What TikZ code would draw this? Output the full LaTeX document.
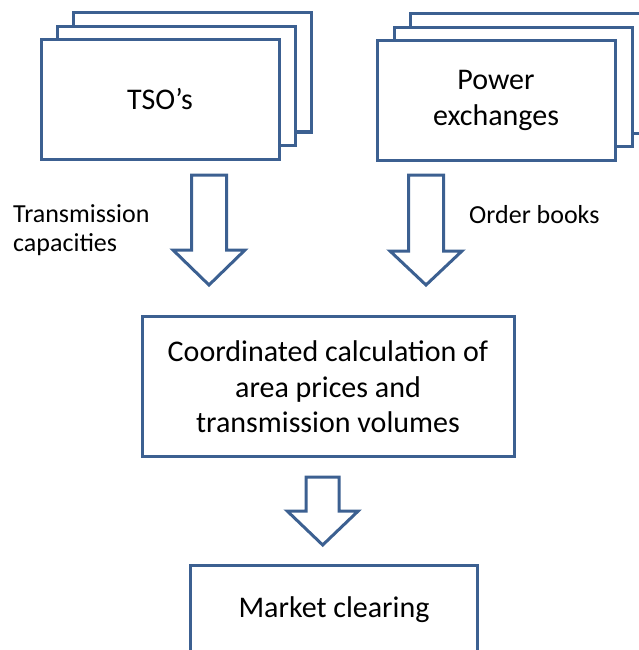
\documentclass[tikz,border=0pt]{standalone}
\usepackage{fontspec}
\setmainfont{Carlito}
\usepackage{tikz}
\definecolor{boxblue}{RGB}{60,96,145}

\begin{document}
\begin{tikzpicture}[x=1pt, y=-1pt,
    box/.style={draw=boxblue, line width=3pt, fill=white, inner sep=0pt, align=center,
      minimum width=238pt, minimum height=119pt, font=\fontsize{30}{35.5}\selectfont},
    lbl/.style={inner sep=0pt, align=left, anchor=base west, font=\fontsize{26}{29.5}\selectfont},
    pics/blockdown/.style n args={4}{code={
      \draw[boxblue, line width=3pt, fill=white, line join=miter]
        (-#1,0) -- (#1,0) -- (#1,#3) -- (#2,#3) -- (0,#4) -- (-#2,#3) -- (-#1,#3) -- cycle;}}]
  \clip (0,0) rectangle (639,650);
  % stacked sources
  \node[box] (tsoC) at (192.5,72.5) {};
  \node[box] (tsoB) at (176.5,86) {};
  \node[box] (tso) at (160,99.5) {TSO’s};
  \node[box] (pxC) at (529,73.5) {};
  \node[box] (pxB) at (513,87) {};
  \node[box] (px) at (496,100.5) {Power\\exchanges};
  % inputs
  \pic (tsoarrow) at (209,175) {blockdown={17.5}{36}{75}{110}};
  \pic (pxarrow) at (426,175) {blockdown={17.5}{36}{76}{110}};
  \node[lbl] (cap) at (13,251.7) {Transmission\\capacities};
  \node[lbl] (orders) at (469,223) {Order books};
  % calculation and result
  \node[box, minimum width=372pt, minimum height=140pt] (calc) at (328,386.7)
    {Coordinated calculation of\\area prices and\\transmission volumes};
  \pic (calcarrow) at (322.7,477) {blockdown={16.5}{35.5}{34}{68}};
  \node[box, minimum width=287pt, minimum height=90pt] (clear) at (334,610) {Market clearing};
\end{tikzpicture}
\end{document}
